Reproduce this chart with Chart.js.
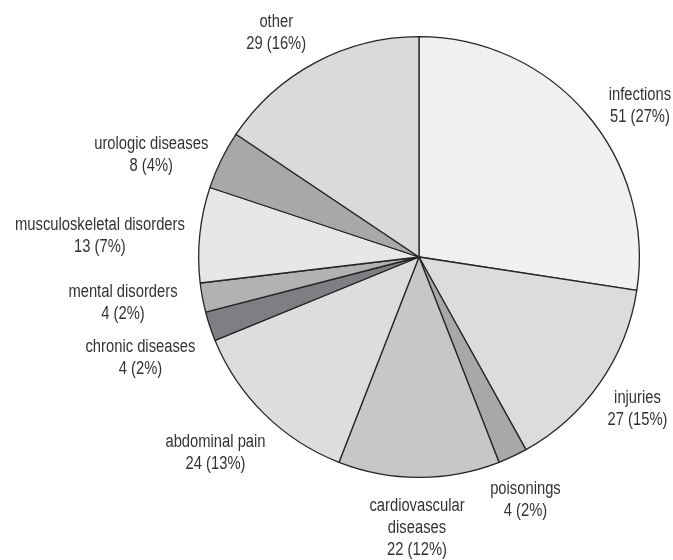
<!DOCTYPE html>
<html>
<head>
<meta charset="utf-8">
<script src="https://cdn.jsdelivr.net/npm/chart.js@4"></script>
<style>
  html, body { margin: 0; padding: 0; background: #fff; }
  #wrap { width: 673px; height: 560px; }
</style>
</head>
<body>
<div id="wrap"><canvas id="pie" width="673" height="560"></canvas></div>
<script>
var categories = [
  "infections",
  "injuries",
  "poisonings",
  ["cardiovascular", "diseases"],
  "abdominal pain",
  "chronic diseases",
  "mental disorders",
  "musculoskeletal disorders",
  "urologic diseases",
  "other"
]
var counts = [51, 27, 4, 22, 24, 4, 4, 13, 8, 29]

var sliceColors = [
  "#f0f0f0", "#dcdcdd", "#a7a8aa", "#c6c7c9", "#dcdddf",
  "#7e7f82", "#b0b2b4", "#e6e7e9", "#a7a8aa", "#d9dadc"
]

// label placement: base point is just outside the slice middle, then nudged
var LABEL_GAP = 30
var labelNudge = [
  [31, 12], [13, 9], [0, 16], [-2, 21], [-28, 18],
  [-41, 22], [-50, 0], [-70, 4], [-43, 8], [-25, -3]
]

// no narrow face installed, so squeeze Liberation Sans (Arial metrics) sideways
var FONT = "18px 'Liberation Sans', Arial, sans-serif"
var SQUEEZE = 0.82
var LINE_H = 22

var outsideLabels = {
  id: "outsideLabels",
  afterDatasetsDraw: function (chart) {
    var c = chart.ctx
    var meta = chart.getDatasetMeta(0)
    var total = counts.reduce(function (a, b) { return a + b }, 0)
    c.save()
    c.font = FONT
    c.fillStyle = "#333333"
    c.textAlign = "center"
    c.textBaseline = "middle"
    meta.data.forEach(function (arc, i) {
      var p = arc.getProps(["x", "y", "startAngle", "endAngle", "outerRadius"], true)
      var mid = (p.startAngle + p.endAngle) / 2
      var d = p.outerRadius + LABEL_GAP
      var bx = p.x + Math.cos(mid) * d + labelNudge[i][0]
      var by = p.y + Math.sin(mid) * d + labelNudge[i][1]
      var name = categories[i]
      var lines = Array.isArray(name) ? name.slice() : [name]
      var pct = Math.round(counts[i] / total * 100)
      lines.push(counts[i] + " (" + pct + "%)")
      lines.forEach(function (t, k) {
        c.save()
        c.translate(bx, by + (k - (lines.length - 1) / 2) * LINE_H)
        c.scale(SQUEEZE, 1)
        c.fillText(t, 0, 0)
        c.restore()
      })
    })
    c.restore()
  }
}

var ctx = document.getElementById("pie")
var pieChart = new Chart(ctx, {
  type: "pie",
  data: {
    labels: categories,
    datasets: [{
      data: counts,
      backgroundColor: sliceColors,
      borderColor: "#262626",
      borderWidth: 1.3
    }]
  },
  options: {
    responsive: false,
    animation: false,
    devicePixelRatio: 1,
    layout: { padding: { left: 198, right: 33, top: 36, bottom: 82 } },
    plugins: {
      legend: { display: false },
      tooltip: { enabled: false }
    }
  },
  plugins: [outsideLabels]
})
</script>
</body>
</html>
